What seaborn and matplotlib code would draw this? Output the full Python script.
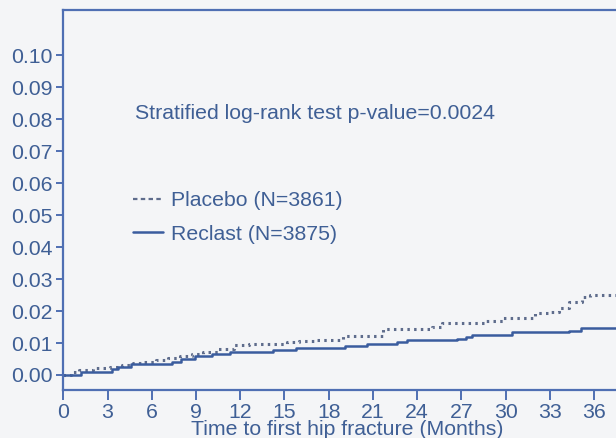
import numpy as np
import pandas as pd
import matplotlib
matplotlib.use("Agg")
import matplotlib.pyplot as plt
from matplotlib.lines import Line2D
import seaborn as sns

# ---- data ----
reclast_t = [0, 1.2, 3.3, 3.7, 4.6, 7.4, 8.0, 8.9, 10.1, 11.3, 14.2, 15.8, 19.1, 20.6,
             22.6, 23.3, 26.7, 27.3, 27.7, 30.4, 34.3, 35.1, 38.5]
reclast_v = [0.0, 0.001, 0.0019, 0.0024, 0.0033, 0.0042, 0.005, 0.0058, 0.0065, 0.0071,
             0.0077, 0.0083, 0.0091, 0.0096, 0.0103, 0.0108, 0.0113, 0.012, 0.0125, 0.0133,
             0.0138, 0.0146, 0.0146]
placebo_t = [0, 0.5, 1.05, 2.0, 3.15, 4.0, 4.7, 5.5, 6.3, 7.1, 7.9, 8.7, 9.5, 10.5, 11.6,
             12.6, 15.2, 16.0, 17.2, 18.3, 19.0, 21.7, 25.0, 25.7, 28.5, 29.8, 32.0, 33.0,
             33.6, 34.3, 35.2, 35.7, 38.5]
placebo_v = [0.0, 0.0008, 0.0016, 0.0021, 0.0026, 0.0032, 0.0038, 0.0042, 0.0047, 0.0053,
             0.0059, 0.0065, 0.0071, 0.0082, 0.0094, 0.0096, 0.0103, 0.0106, 0.0109, 0.011,
             0.0122, 0.0144, 0.0151, 0.0163, 0.017, 0.0179, 0.0195, 0.0197, 0.0208, 0.0229,
             0.0243, 0.025, 0.025]
x_ticks = list(range(0, 37, 3))
y_ticks = [0.00, 0.01, 0.02, 0.03, 0.04, 0.05, 0.06, 0.07, 0.08, 0.09, 0.10]
labels = ["Placebo (N=3861)", "Reclast (N=3875)"]
annotation = "Stratified log-rank test p-value=0.0024"
x_label = "Time to first hip fracture (Months)"

BG = "#f4f5f7"
SPINE = "#4f6fb3"
TXT = "#3f5f95"
SOLID = "#3a5c9e"
DOT = "#5e6c8c"
FS = 15.3

sns.set_theme(style="white")
plt.rcParams["font.family"] = ["Liberation Sans", "DejaVu Sans"]

fig = plt.figure(figsize=(6.16, 4.38), dpi=100, facecolor=BG)
ax = fig.add_axes([63.3 / 616, 48 / 438, (631 - 63.3) / 616, 380 / 438])
ax.set_facecolor(BG)

dfr = pd.DataFrame({"t": reclast_t, "v": reclast_v})
dfp = pd.DataFrame({"t": placebo_t, "v": placebo_v})
sns.lineplot(data=dfp, x="t", y="v", ax=ax, color=DOT, linewidth=2.2,
             linestyle=(0, (0.8, 1.4)), drawstyle="steps-post", estimator=None, sort=False,
             dash_capstyle="butt")
sns.lineplot(data=dfr, x="t", y="v", ax=ax, color=SOLID, linewidth=1.8,
             drawstyle="steps-post", estimator=None, sort=False)

ax.set_xlim(0, 38.5)
ax.set_ylim(-0.00469, 0.1141)
ax.set_xticks(x_ticks)
ax.set_xticklabels([str(t) for t in x_ticks])
ax.set_yticks(y_ticks)
ax.set_yticklabels([f"{v:.2f}" for v in y_ticks])

for s in ax.spines.values():
    s.set_color(SPINE)
    s.set_linewidth(1.6)
ax.tick_params(axis="both", colors=SPINE, labelcolor=TXT, labelsize=FS,
               direction="out", width=1.4, left=True, bottom=True)
ax.tick_params(axis="y", length=5, pad=3)
ax.tick_params(axis="x", length=7, pad=2)
ax.set_xlabel(x_label, fontsize=FS, color=TXT, labelpad=-1)
ax.set_ylabel("")

ax.text(4.86, 0.0817, annotation, fontsize=FS, color=TXT, va="center", ha="left")

handles = [Line2D([], [], color=DOT, linewidth=1.6, linestyle=(0, (2.0, 1.5))),
           Line2D([], [], color=SOLID, linewidth=1.8)]
ax.legend(handles, labels, loc="upper left", bbox_to_anchor=(0.108, 0.546),
          frameon=False, fontsize=FS, labelcolor=TXT, handlelength=1.4,
          handletextpad=0.4, labelspacing=0.69, borderaxespad=0)

fig.savefig("out.png", dpi=100, facecolor=BG)
